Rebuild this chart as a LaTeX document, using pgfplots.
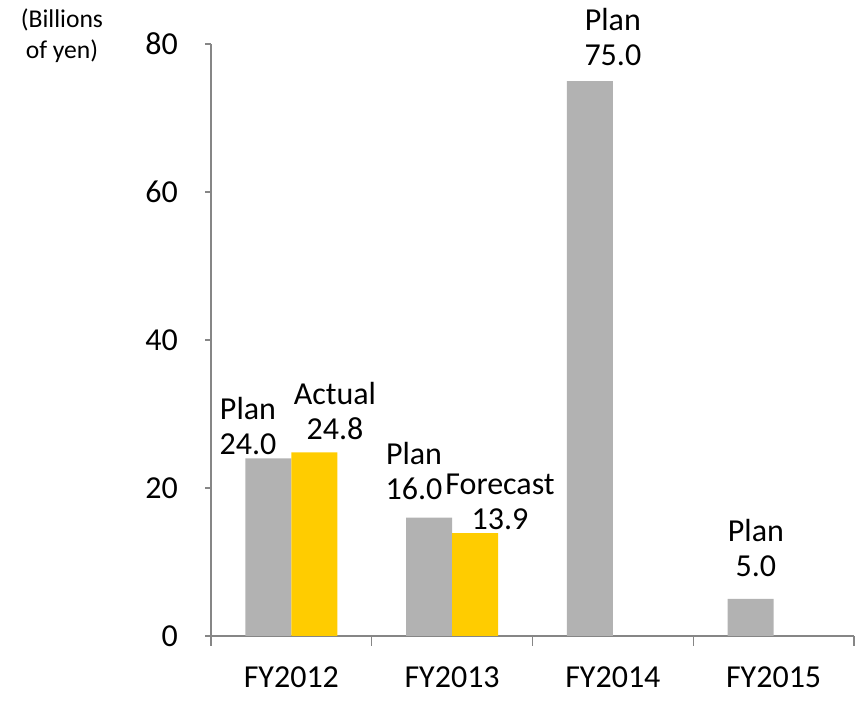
\documentclass[border=0pt]{standalone}
\usepackage{pgfplots}
\pgfplotsset{compat=1.18}
\usepackage{fontspec}
\setmainfont{Carlito}
\definecolor{plangray}{HTML}{B2B2B2}
\definecolor{actyellow}{HTML}{FFCC00}
\definecolor{axgray}{HTML}{868686}
\begin{document}
\begin{tikzpicture}
\useasboundingbox (0,0) rectangle (429.5pt,351.5pt);
\node[align=center, font=\fontsize{12.8}{15.5}\selectfont, anchor=north, inner sep=0pt] at (31pt,347.5pt) {(Billions\\of yen)};
\begin{axis}[
  at={(105.5pt,33.5pt)}, anchor=south west,
  scale only axis, width=321.5pt, height=296pt,
  xmin=-0.5, xmax=3.5, ymin=0, ymax=80,
  axis x line=bottom, axis y line=left,
  axis line style={axgray, line width=0.6pt, -},
  xtick={0,1,2,3},
  xticklabels={FY2012,FY2013,FY2014,FY2015},
  minor xtick={-0.5,0.5,1.5,2.5,3.5},
  major x tick style={draw=none},
  minor x tick style={axgray, line width=0.6pt},
  minor tick length=5pt,
  ytick={0,20,40,60,80},
  y tick style={axgray, line width=0.6pt},
  major tick length=3pt,
  tick align=outside,
  ticklabel style={font=\fontsize{16}{19}\selectfont},
  /pgf/number format/assume math mode=true,
  yticklabel style={xshift=-10pt},
  xticklabel style={yshift=-9pt},
  ybar, bar width=23pt,
  clip=false,
]
\addplot[fill=plangray, draw=none, bar shift=-11.5pt] coordinates {(0,24.0) (1,16.0) (2,75.0) (3,5.0)};
\addplot[fill=actyellow, draw=none, bar shift=11.5pt] coordinates {(0,24.8) (1,13.9)};
\begin{scope}[every node/.style={align=center, font=\fontsize{16}{17.5}\selectfont, anchor=south, inner sep=0pt}]
\node at (axis cs:-0.27,24.4) {Plan\\24.0};
\node at (axis cs:0.271,26.5) {Actual\\24.8};
\node at (axis cs:0.763,18.4) {Plan\\16.0};
\node at (axis cs:1.298,14.3) {Forecast\\13.9};
\node at (axis cs:2.0,77.0) {Plan\\75.0};
\node at (axis cs:2.89,8.0) {Plan\\5.0};
\end{scope}
\end{axis}
\end{tikzpicture}
\end{document}
